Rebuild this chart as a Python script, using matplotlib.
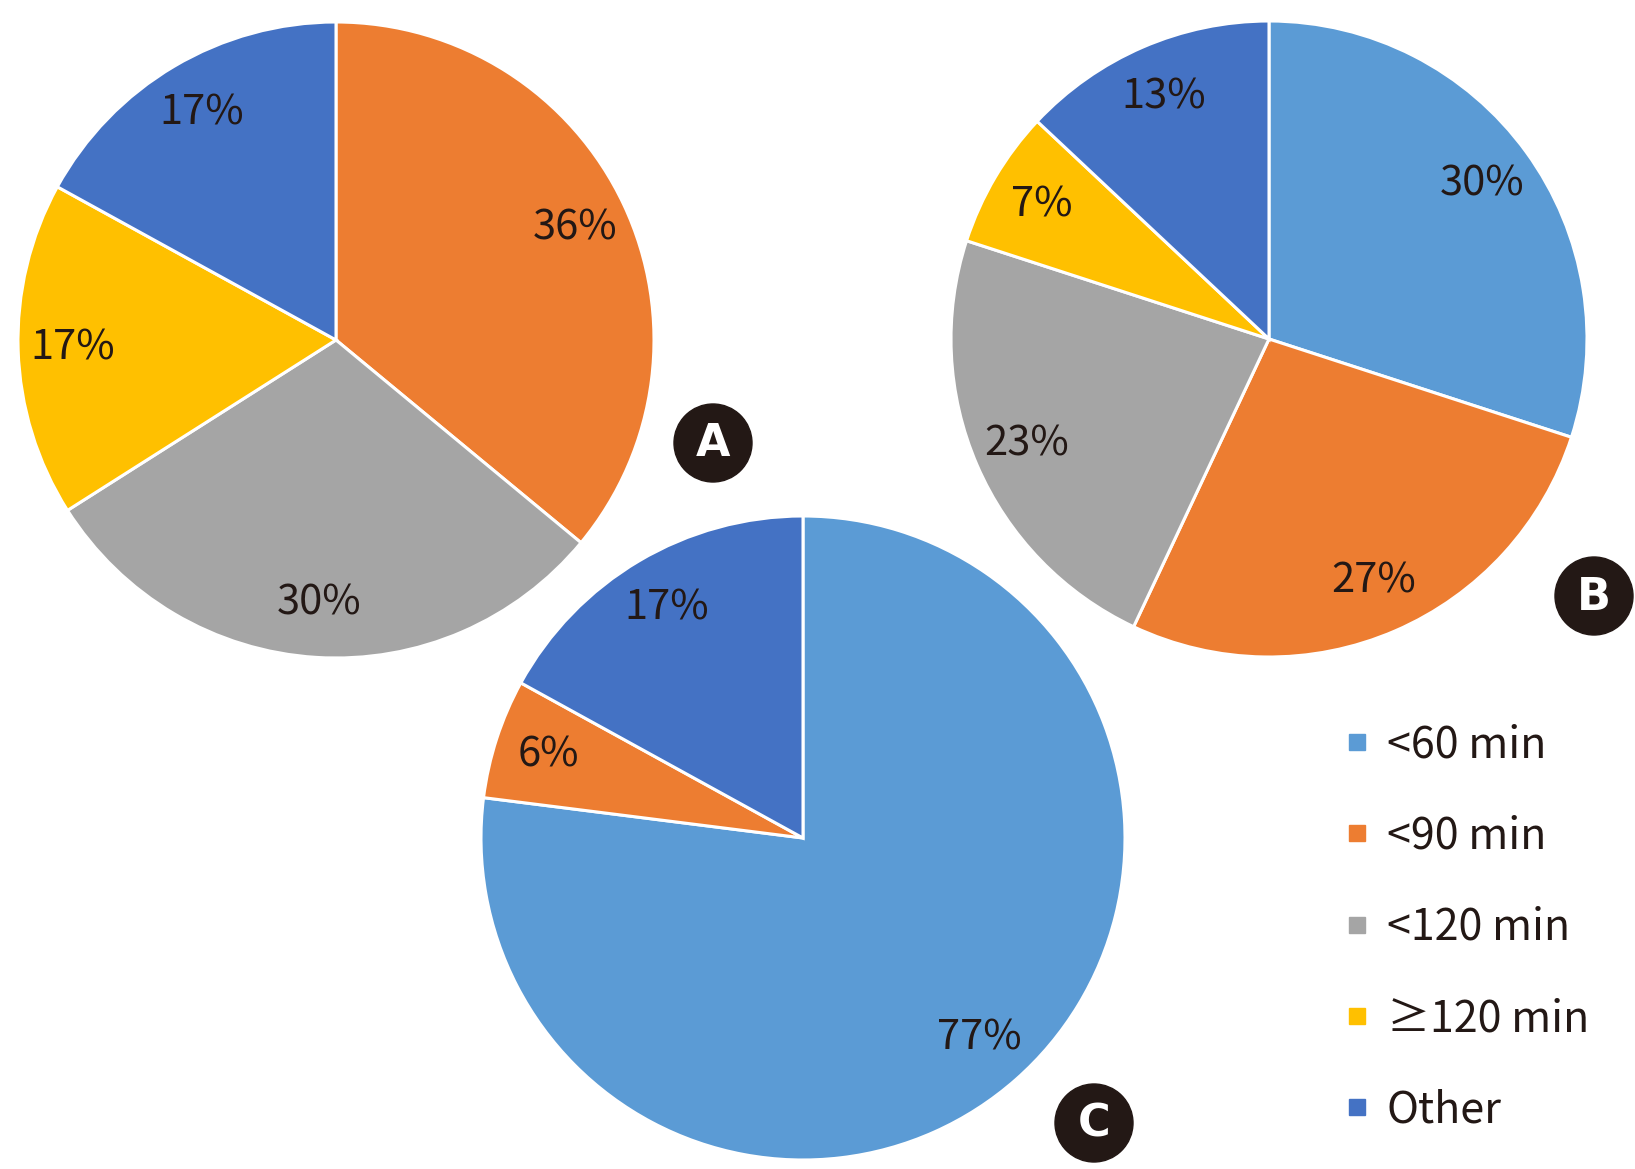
import matplotlib
matplotlib.use("Agg")
import matplotlib.pyplot as plt
from matplotlib.patches import Circle
from matplotlib.lines import Line2D

W, H = 1635, 1169

categories = ['<60 min', '<90 min', '<120 min', '\u2265120 min', 'Other']
colors = ['#5B9BD5', '#ED7D31', '#A5A5A5', '#FFC000', '#4472C4']

# percentages per panel, in category order
panel_a = [0, 36, 30, 17, 17]
panel_b = [30, 27, 23, 7, 13]
panel_c = [77, 6, 0, 0, 17]

plt.rcParams['font.family'] = ['Noto Sans CJK KR', 'DejaVu Sans']

fig = plt.figure(figsize=(W / 100, H / 100), dpi=100)


def draw_pie(values, cx, cy, r):
    # axes box in figure fraction from pixel centre/radius
    ax = fig.add_axes([(cx - r) / W, (H - cy - r) / H, 2 * r / W, 2 * r / H])
    vals = [v for v in values if v > 0]
    cols = [c for v, c in zip(values, colors) if v > 0]
    ax.pie(vals, colors=cols, startangle=90, counterclock=False,
           autopct='%.0f%%', pctdistance=0.83, radius=1,
           wedgeprops=dict(edgecolor='white', linewidth=2.2),
           textprops=dict(fontsize=30, color='#231815'))
    ax.set_xlim(-1, 1)
    ax.set_ylim(-1, 1)
    ax.set_aspect('equal')
    ax.axis('off')
    return ax


draw_pie(panel_a, 336, 340, 318)
draw_pie(panel_b, 1269, 339, 318)
draw_pie(panel_c, 803, 838, 322)

# overlay in pixel coords for the panel badges
ov = fig.add_axes([0, 0, 1, 1])
ov.set_xlim(0, W)
ov.set_ylim(H, 0)
ov.axis('off')
ov.patch.set_alpha(0)
for letter, (bx, by) in zip(['A', 'B', 'C'], [(713, 443), (1594, 596), (1094, 1123)]):
    ov.add_patch(Circle((bx, by), 39, color='#231815'))
    ov.text(bx, by + 1, letter, color='white', fontsize=32, fontweight='bold',
            ha='center', va='center', family='DejaVu Sans')

handles = [Line2D([], [], marker='s', linestyle='none', markersize=12,
                  markerfacecolor=c, markeredgecolor=c) for c in colors]
fig.legend(handles, categories, loc='upper left',
           bbox_to_anchor=(1335 / W, 1 - 723 / H), frameon=False,
           fontsize=31, labelspacing=1.1, handletextpad=0.2,
           handlelength=1.0, borderpad=0, borderaxespad=0,
           labelcolor='#231815')

fig.savefig('out.png', dpi=100)
